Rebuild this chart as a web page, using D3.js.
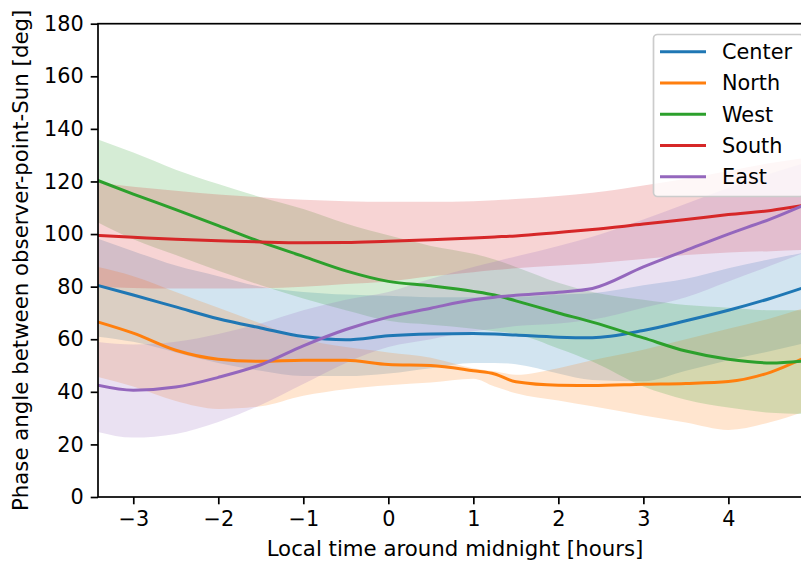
<!DOCTYPE html>
<html>
<head>
<meta charset="utf-8">
<script src="https://cdn.jsdelivr.net/npm/d3@7"></script>
<style>
  html, body { margin: 0; padding: 0; background: #fff; }
  svg { display: block; font-family: "DejaVu Sans", sans-serif; }
</style>
</head>
<body>
<svg id="chart" width="801" height="563"></svg>
<script>
// Local time grid (hours around midnight)
const hours = [-3.42, -3, -2.5, -2, -1.5, -1, -0.5, 0, 0.5, 1, 1.25, 1.5, 2, 2.4, 3, 3.5, 4, 4.5, 4.9];

// Mean phase angle per pointing direction [deg]
const centerMean = [80.5, 76.8, 72.3, 67.8, 64.3, 61, 59.8, 61.3, 62, 62.2, 62, 61.6, 60.8, 60.6, 63.3, 67, 71, 75.6, 79.8];
const northMean  = [66.6, 62.3, 55.8, 52.4, 51.6, 52, 52, 50.4, 50, 48, 46.8, 43.8, 42.5, 42.4, 42.9, 43.2, 43.9, 47.5, 53];
const westMean   = [120.4, 115.2, 109.3, 103.2, 97, 91.5, 86, 82, 80.3, 78.2, 76.8, 74.6, 70, 66.5, 60.5, 55.5, 52.4, 51, 51.8];
const southMean  = [99.5, 98.8, 98, 97.5, 97, 96.7, 96.8, 97.3, 97.8, 98.5, 98.9, 99.3, 100.6, 101.7, 103.8, 105.5, 107.4, 109, 111];
const eastMean   = [42.5, 40.6, 41.8, 45.5, 50.3, 57.5, 63.7, 68.4, 71.8, 75, 76, 76.7, 77.9, 79.3, 87.5, 93.8, 100, 105.8, 111.2];

// Spread envelopes (upper / lower) per direction [deg]
const centerHigh = [98.3, 93.5, 88, 84, 80, 78, 77, 76.5, 76, 76, 76, 76, 77, 77.5, 80.5, 83, 87, 90.5, 93];
const centerLow  = [61, 59, 55, 51, 48, 46, 46, 47, 49, 51, 51, 50.5, 47, 44.5, 44, 48, 52, 55.5, 58.5];
const northHigh  = [87.5, 84, 78, 72, 66, 60, 57, 55, 53, 49, 47.8, 46.5, 49, 52, 56, 60, 64, 68, 72];
const northLow   = [45.7, 42, 36.5, 33.5, 34.5, 38.5, 41, 42.5, 43.5, 45, 42, 39.5, 36.7, 34.5, 31, 28.3, 25.5, 28.5, 32.5];
const westHigh   = [136, 131, 124.5, 119, 114, 109.5, 104, 99.5, 95.5, 92.5, 90.3, 87.5, 81.5, 78, 75, 73, 72, 71, 71];
const westLow    = [104.5, 98, 92, 86, 80.5, 75.5, 71, 67, 65.5, 64, 63, 62, 56.5, 51.5, 42, 37, 34, 32, 31.5];
const southHigh  = [119.5, 118, 116.5, 115, 114, 113, 112.5, 112.3, 112.3, 112.5, 112.9, 113.3, 114.5, 115.7, 118.5, 121, 124, 127, 129];
const southLow   = [80, 79.5, 79.3, 79.3, 79.4, 80, 81, 82, 84, 85.5, 86.3, 87, 88, 88.8, 90.5, 92, 93, 93.5, 94];
const eastHigh   = [59, 58, 59, 62, 66, 71, 75, 78, 83, 87.5, 89.5, 91.5, 95.5, 99, 105.5, 111.5, 117.5, 123, 127];
const eastLow    = [24.8, 22.6, 24, 28.5, 35, 43, 51, 57, 60, 63, 64, 65, 66, 67.5, 72, 76, 82, 88, 93];

const seriesNames = ["Center", "North", "West", "South", "East"];
const seriesColors = ["#1f77b4", "#ff7f0e", "#2ca02c", "#d62728", "#9467bd"];
const means = [centerMean, northMean, westMean, southMean, eastMean];
const highs = [centerHigh, northHigh, westHigh, southHigh, eastHigh];
const lows  = [centerLow, northLow, westLow, southLow, eastLow];

const yTicks = [0, 20, 40, 60, 80, 100, 120, 140, 160, 180];
const xTicks = [-3, -2, -1, 0, 1, 2, 3, 4];

const box = { left: 98, top: 23.7, right: 810, bottom: 497 };
const svg = d3.select("#chart");

const x = d3.scaleLinear().domain([-3.415, 4.96]).range([box.left, box.right]);
const y = d3.scaleLinear().domain([0, 180]).range([box.bottom, box.top]);

svg.append("defs").append("clipPath").attr("id", "plot-clip")
  .append("rect")
  .attr("x", box.left).attr("y", box.top)
  .attr("width", box.right - box.left)
  .attr("height", box.bottom - box.top);

const plot = svg.append("g").attr("clip-path", "url(#plot-clip)");

const area = (hi, lo) => d3.area()
  .curve(d3.curveMonotoneX)
  .x((d, i) => x(hours[i]))
  .y0((d, i) => y(lo[i]))
  .y1((d, i) => y(hi[i]));

const line = d3.line()
  .curve(d3.curveMonotoneX)
  .x((d, i) => x(hours[i]))
  .y(d => y(d));

// shaded spread bands
seriesNames.forEach((name, k) => {
  plot.append("path")
    .datum(hours)
    .attr("d", area(highs[k], lows[k]))
    .attr("fill", seriesColors[k])
    .attr("fill-opacity", 0.2)
    .attr("stroke", "none");
});

// mean curves
seriesNames.forEach((name, k) => {
  plot.append("path")
    .datum(means[k])
    .attr("d", line)
    .attr("fill", "none")
    .attr("stroke", seriesColors[k])
    .attr("stroke-width", 3);
});

// axes
const fontSize = 20.8;
const xAxis = d3.axisBottom(x).tickValues(xTicks).tickSize(7.3).tickPadding(7)
  .tickFormat(d => d < 0 ? "\u2212" + Math.abs(d) : d);
const yAxis = d3.axisLeft(y).tickValues(yTicks).tickSize(7.3).tickPadding(7);

const gx = svg.append("g").attr("transform", `translate(0,${box.bottom})`).call(xAxis);
const gy = svg.append("g").attr("transform", `translate(${box.left},0)`).call(yAxis);
[gx, gy].forEach(g => {
  g.select(".domain").remove();
  g.selectAll(".tick line").attr("stroke", "#000").attr("stroke-width", 1.7);
  g.selectAll(".tick text").attr("fill", "#000").attr("font-size", fontSize)
    .attr("font-family", "DejaVu Sans, sans-serif");
});

// frame
svg.append("rect")
  .attr("x", box.left).attr("y", box.top)
  .attr("width", box.right - box.left)
  .attr("height", box.bottom - box.top)
  .attr("fill", "none").attr("stroke", "#000").attr("stroke-width", 1.7);

// axis titles
svg.append("text")
  .attr("x", 455).attr("y", 556)
  .attr("text-anchor", "middle")
  .attr("font-size", 21.3)
  .text("Local time around midnight [hours]");

svg.append("text")
  .attr("transform", `translate(28,${(box.top + box.bottom) / 2}) rotate(-90)`)
  .attr("text-anchor", "middle")
  .attr("font-size", 21.3)
  .text("Phase angle between observer-point-Sun [deg]");

// legend
const legend = svg.append("g");
legend.append("rect")
  .attr("x", 653.5).attr("y", 34.5)
  .attr("width", 150).attr("height", 162)
  .attr("rx", 4).attr("ry", 4)
  .attr("fill", "#fff").attr("fill-opacity", 0.8)
  .attr("stroke", "#cccccc").attr("stroke-width", 1.7);

seriesNames.forEach((name, k) => {
  const yy = 51.7 + k * 31.25;
  legend.append("line")
    .attr("x1", 660).attr("x2", 706)
    .attr("y1", yy).attr("y2", yy)
    .attr("stroke", seriesColors[k]).attr("stroke-width", 3);
  legend.append("text")
    .attr("x", 722).attr("y", yy)
    .attr("dy", "0.36em")
    .attr("font-size", fontSize)
    .text(name);
});
</script>
</body>
</html>
